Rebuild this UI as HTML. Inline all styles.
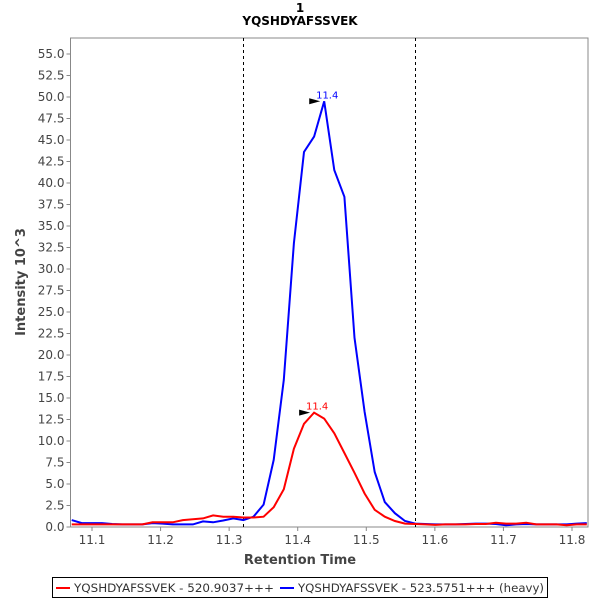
<!DOCTYPE html>
<html><head><meta charset="utf-8"><style>
body{margin:0;background:#fff;font-family:"Liberation Sans","DejaVu Sans",sans-serif;}
svg text{font-family:"DejaVu Sans","Liberation Sans",sans-serif;}
</style></head><body>
<svg id="chart" width="600" height="600" xmlns="http://www.w3.org/2000/svg">
<rect width="600" height="600" fill="#fff"/>
<text x="300" y="12" text-anchor="middle" font-size="12" font-weight="bold">1</text>
<text x="300" y="25" text-anchor="middle" font-size="12" font-weight="bold">YQSHDYAFSSVEK</text>
<g id="plot"></g>
<text x="300" y="564" text-anchor="middle" font-size="13" font-weight="bold" fill="#444">Retention Time</text>
<text transform="translate(25,282) rotate(-90)" text-anchor="middle" font-size="13" font-weight="bold" fill="#444">Intensity 10^3</text>
<g>
<rect x="52.5" y="577.5" width="495" height="20" fill="#fff" stroke="#000"/>
<line x1="56" y1="588" x2="70" y2="588" stroke="#f00" stroke-width="2"/>
<text x="74" y="592" font-size="11.5" fill="#333" textLength="200" lengthAdjust="spacingAndGlyphs">YQSHDYAFSSVEK - 520.9037+++</text>
<line x1="280" y1="588" x2="294" y2="588" stroke="#00f" stroke-width="2"/>
<text x="298" y="592" font-size="11.5" fill="#333" textLength="246" lengthAdjust="spacingAndGlyphs">YQSHDYAFSSVEK - 523.5751+++ (heavy)</text>
</g>
</svg>
<script>
const xStart = 11.0704;
const xStep = 0.01473;
const lightValues = [0.3,0.3,0.3,0.3,0.3,0.3,0.3,0.3,0.55,0.55,0.55,0.8,0.9,1.0,1.35,1.2,1.2,1.1,1.1,1.2,2.3,4.4,9.1,12.0,13.3,12.6,10.9,8.6,6.3,3.9,2.0,1.2,0.7,0.4,0.35,0.3,0.25,0.3,0.3,0.3,0.35,0.35,0.5,0.4,0.4,0.5,0.3,0.3,0.3,0.2,0.3,0.3];
const heavyValues = [0.8,0.45,0.45,0.45,0.35,0.3,0.3,0.3,0.45,0.4,0.3,0.3,0.3,0.65,0.55,0.75,1.0,0.8,1.2,2.6,7.8,17.1,33.0,43.6,45.4,49.5,41.5,38.4,22.0,13.4,6.4,2.9,1.6,0.7,0.4,0.35,0.3,0.3,0.3,0.35,0.4,0.4,0.35,0.2,0.3,0.35,0.3,0.3,0.3,0.3,0.4,0.45];
const xTicks = [11.1,11.2,11.3,11.4,11.5,11.6,11.7,11.8];
const yTicks = [0,2.5,5,7.5,10,12.5,15,17.5,20,22.5,25,27.5,30,32.5,35,37.5,40,42.5,45,47.5,50,52.5,55];
const boundaries = [11.3197, 11.5705];
const peakLabels = ["11.4","11.4"];

const L=70.5,R=588,T=38,B=527;
const sx = v => 92 + (v-11.1)*480/0.7;
const sy = v => 527 - v*8.6;
const NS="http://www.w3.org/2000/svg";
const g=document.getElementById('plot');
function mk(tag,attrs,parent){const e=document.createElementNS(NS,tag);for(const k in attrs)e.setAttribute(k,attrs[k]);(parent||g).appendChild(e);return e;}
const frame=mk('rect',{x:L,y:T,width:R-L,height:B-T,fill:'#fff',stroke:'#888'});


xTicks.forEach(t=>{const x=sx(t);
 const l=mk('line',{x1:x,y1:B,x2:x,y2:B+4,stroke:'#888'});
 
 
 const tx=mk('text',{x:x,y:B+17,'text-anchor':'middle','font-size':12,fill:'#444'});tx.textContent=t.toFixed(1);
 
 
});
yTicks.forEach(t=>{const y=sy(t);
 const l=mk('line',{x1:L-4,y1:y,x2:L,y2:y,stroke:'#888'});
 
 
 const tx=mk('text',{x:L-6,y:y+4,'text-anchor':'end','font-size':12,fill:'#444'});tx.textContent=t.toFixed(1);
 
 
});
boundaries.forEach(b=>{const x=Math.round(sx(b))+0.5;
 const l=mk('line',{x1:x,y1:T,x2:x,y2:B,stroke:'#000','stroke-dasharray':'3,3'});
 
 
});
function series(vals,color,name,label){
 const pts=vals.map((v,i)=>sx(xStart+i*xStep).toFixed(1)+','+sy(v).toFixed(1)).join(' ');
 const p=mk('polyline',{points:pts,fill:'none',stroke:color,'stroke-width':2});
 
 
 let mi=0;vals.forEach((v,i)=>{if(v>vals[mi])mi=i;});
 const px=sx(xStart+mi*xStep),py=sy(vals[mi]);
 const a=mk('polygon',{points:`${px-15},${py-3} ${px-4},${py} ${px-15},${py+3}`,fill:'#000'});
 
 
 const t=mk('text',{x:px+3,y:py-3,'font-size':10,fill:color,'text-anchor':'middle'});t.textContent=label;
 
 
}
series(heavyValues,'#00f','heavy-series',peakLabels[1]);
series(lightValues,'#f00','light-series',peakLabels[0]);
</script>
</body></html>
